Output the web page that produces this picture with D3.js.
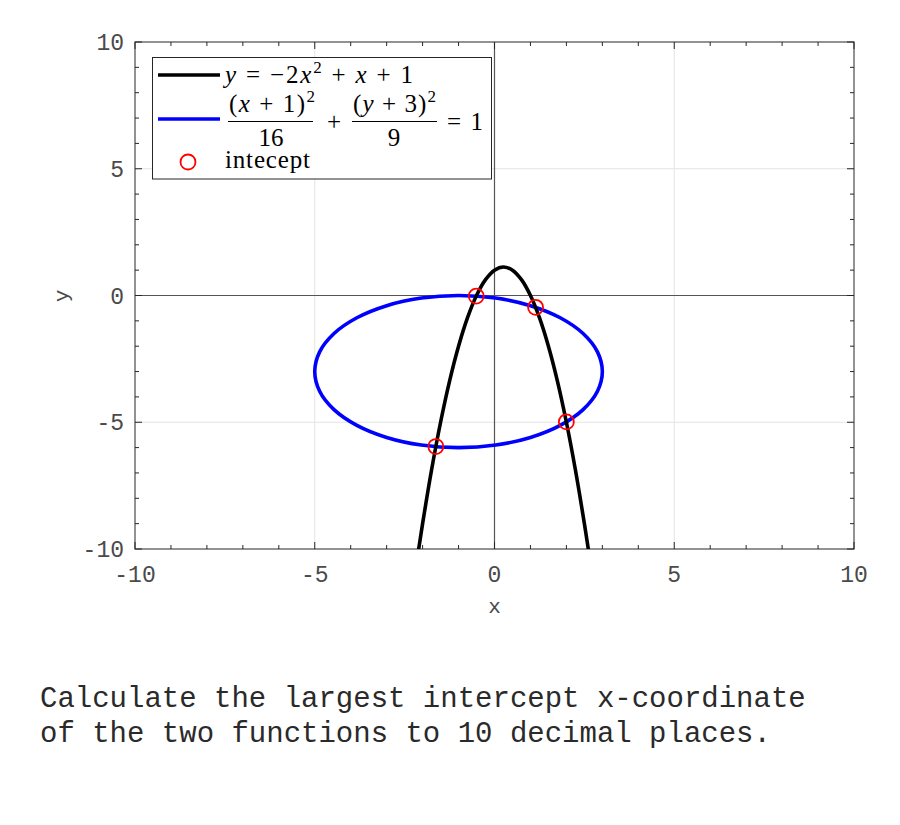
<!DOCTYPE html>
<html>
<head>
<meta charset="utf-8">
<script src="https://cdn.jsdelivr.net/npm/d3@7"></script>
<style>
  body { margin: 0; background: #fff; }
  svg { display: block; }
</style>
</head>
<body>
<svg id="chart" width="900" height="825"></svg>
<script>
// ---- data ----
const xTicks = [-10, -5, 0, 5, 10];
const yTicks = [-10, -5, 0, 5, 10];
const minorTicks = d3.range(-10, 11, 1);

// parabola y = -2x^2 + x + 1
const parabolaX = [-2.11, -2.0, -1.75, -1.5, -1.25, -1.0, -0.75, -0.5, -0.25, 0, 0.25, 0.5, 0.75, 1.0, 1.25, 1.5, 1.75, 2.0, 2.25, 2.5, 2.61];
const parabolaY = [-10.01, -9, -6.875, -5, -3.375, -2, -0.875, 0, 0.625, 1, 1.125, 1, 0.625, 0, -0.875, -2, -3.375, -5, -6.875, -9, -10.01];

// ellipse (x+1)^2/16 + (y+3)^2/9 = 1
const ellipseX = [3, 2.864, 2.464, 1.828, 1.0, 0.035, -1, -2.035, -3, -3.828, -4.464, -4.864, -5, -4.864, -4.464, -3.828, -3, -2.035, -1, 0.035, 1.0, 1.828, 2.464, 2.864];
const ellipseY = [-3, -2.224, -1.5, -0.879, -0.402, -0.102, 0, -0.102, -0.402, -0.879, -1.5, -2.224, -3, -3.776, -4.5, -5.121, -5.598, -5.898, -6, -5.898, -5.598, -5.121, -4.5, -3.776];

// intercepts
const interceptX = [-0.508, 1.142, 1.998, -1.632];
const interceptY = [-0.023, -0.466, -4.986, -5.958];

const questionLines = [
  "Calculate the largest intercept x-coordinate",
  "of the two functions to 10 decimal places."
];

// ---- layout ----
const svg = d3.select("#chart");
const L = 135, R = 854, T = 42, B = 549;
const x = d3.scaleLinear().domain([-10, 10]).range([L, R]);
const y = d3.scaleLinear().domain([-10, 10]).range([B, T]);
const mono = "'Liberation Mono', 'DejaVu Sans Mono', monospace";
const serif = "'Liberation Serif', 'DejaVu Serif', serif";

svg.append("defs").append("clipPath").attr("id", "clip")
  .append("rect").attr("x", L).attr("y", T).attr("width", R - L).attr("height", B - T);

// grid
const grid = svg.append("g");
[-5, 0, 5].forEach(v => {
  grid.append("line").attr("x1", x(v)).attr("x2", x(v)).attr("y1", T).attr("y2", B)
    .attr("stroke", "#e3e3e3").attr("stroke-width", 1);
  grid.append("line").attr("x1", L).attr("x2", R).attr("y1", y(v)).attr("y2", y(v))
    .attr("stroke", "#e3e3e3").attr("stroke-width", 1);
});

// zero axes
svg.append("line").attr("x1", x(0)).attr("x2", x(0)).attr("y1", T).attr("y2", B)
  .attr("stroke", "#555").attr("stroke-width", 1.2);
svg.append("line").attr("x1", L).attr("x2", R).attr("y1", y(0)).attr("y2", y(0))
  .attr("stroke", "#555").attr("stroke-width", 1.2);

// axes with inward ticks
function tickLen(v) { return v % 5 === 0 ? 7 : 4; }
const axG = svg.append("g").attr("stroke", "#262626").attr("stroke-width", 1);
minorTicks.forEach(v => {
  const t = tickLen(v);
  axG.append("line").attr("x1", x(v)).attr("x2", x(v)).attr("y1", B).attr("y2", B - t);
  axG.append("line").attr("x1", x(v)).attr("x2", x(v)).attr("y1", T).attr("y2", T + t);
  axG.append("line").attr("y1", y(v)).attr("y2", y(v)).attr("x1", L).attr("x2", L + t);
  axG.append("line").attr("y1", y(v)).attr("y2", y(v)).attr("x1", R).attr("x2", R - t);
});
svg.append("rect").attr("x", L).attr("y", T).attr("width", R - L).attr("height", B - T)
  .attr("fill", "none").attr("stroke", "#262626").attr("stroke-width", 1);

// tick labels
const fmt = v => (v < 0 ? "-" : "") + Math.abs(v);
svg.append("g").selectAll("text").data(xTicks).join("text")
  .attr("x", d => x(d)).attr("y", B + 33)
  .attr("text-anchor", "middle")
  .attr("font-family", mono).attr("font-size", 23).attr("fill", "#4a4a4a")
  .text(fmt);
svg.append("g").selectAll("text").data(yTicks).join("text")
  .attr("x", L - 11).attr("y", d => y(d) + 8)
  .attr("text-anchor", "end")
  .attr("font-family", mono).attr("font-size", 23).attr("fill", "#4a4a4a")
  .text(fmt);

// axis labels
svg.append("text").attr("x", x(0)).attr("y", 613).attr("text-anchor", "middle")
  .attr("font-family", mono).attr("font-size", 21).attr("fill", "#4a4a4a").text("x");
svg.append("text").attr("transform", "translate(68,296) rotate(-90)").attr("text-anchor", "middle")
  .attr("font-family", mono).attr("font-size", 21).attr("fill", "#4a4a4a").text("y");

// curves
const plot = svg.append("g").attr("clip-path", "url(#clip)");
const parabola = parabolaX.map((v, i) => [v, parabolaY[i]]);
const ellipse = ellipseX.map((v, i) => [v, ellipseY[i]]);

plot.append("path").datum(ellipse)
  .attr("d", d3.line().x(d => x(d[0])).y(d => y(d[1])).curve(d3.curveCatmullRomClosed.alpha(0.5)))
  .attr("fill", "none").attr("stroke", "#0000ff").attr("stroke-width", 3.6);

plot.append("path").datum(parabola)
  .attr("d", d3.line().x(d => x(d[0])).y(d => y(d[1])).curve(d3.curveCatmullRom.alpha(0.5)))
  .attr("fill", "none").attr("stroke", "#000").attr("stroke-width", 3.6);

plot.append("g").selectAll("circle").data(interceptX).join("circle")
  .attr("cx", d => x(d)).attr("cy", (d, i) => y(interceptY[i])).attr("r", 7.5)
  .attr("fill", "none").attr("stroke", "#ff0000").attr("stroke-width", 1.8);

// legend
const lg = svg.append("g");
lg.append("rect").attr("x", 152.5).attr("y", 57.5).attr("width", 339).attr("height", 121.5)
  .attr("fill", "#fff").attr("stroke", "#262626").attr("stroke-width", 1);
lg.append("line").attr("x1", 158).attr("x2", 220).attr("y1", 75).attr("y2", 75)
  .attr("stroke", "#000").attr("stroke-width", 3.6);
lg.append("line").attr("x1", 158).attr("x2", 220).attr("y1", 119).attr("y2", 119)
  .attr("stroke", "#0000ff").attr("stroke-width", 3.6);
lg.append("circle").attr("cx", 188).attr("cy", 162).attr("r", 7.5)
  .attr("fill", "none").attr("stroke", "#ff0000").attr("stroke-width", 1.8);

const fs = 25;
function mathText(xp, yp, parts, anchor, len) {
  const t = lg.append("text").attr("x", xp).attr("y", yp)
    .attr("font-family", serif).attr("font-size", fs).attr("fill", "#000")
    .attr("text-anchor", anchor || "start")
    .attr("xml:space", "preserve");
  if (len) t.attr("textLength", len).attr("lengthAdjust", "spacing");
  parts.forEach(p => {
    const s = t.append("tspan").text(p[0]);
    if (p[1] === "i") s.attr("font-style", "italic");
    if (p[1] === "sup") s.attr("font-size", 17).attr("dy", -10);
    if (p[1] === "down") s.attr("dy", 10);
  });
  return t;
}
// line 1
mathText(225, 83, [["y", "i"], [" = −2", ""], ["x", "i"], ["2", "sup"], [" + ", "down"], ["x", "i"], [" + 1", ""]], "start", 188);
// fraction 1
mathText(229, 112, [["(", ""], ["x", "i"], [" + 1)", ""], ["2", "sup"]], "start", 86);
lg.append("line").attr("x1", 228).attr("x2", 313).attr("y1", 121.5).attr("y2", 121.5).attr("stroke", "#000").attr("stroke-width", 1);
mathText(271, 146, [["16", ""]], "middle");
mathText(334, 130, [["+", ""]], "middle");
// fraction 2
mathText(353, 112, [["(", ""], ["y", "i"], [" + 3)", ""], ["2", "sup"]], "start", 83);
lg.append("line").attr("x1", 352).attr("x2", 437).attr("y1", 121.5).attr("y2", 121.5).attr("stroke", "#000").attr("stroke-width", 1);
mathText(394, 146, [["9", ""]], "middle");
mathText(447, 130, [["= 1", ""]], "start", 36);
// intercept
mathText(225, 168, [["intecept", ""]], "start", 85);

// question text
svg.append("g").selectAll("text").data(questionLines).join("text")
  .attr("x", 40).attr("y", (d, i) => 707 + i * 35)
  .attr("font-family", mono).attr("font-size", 29).attr("fill", "#2a2a2a")
  .attr("xml:space", "preserve")
  .text(d => d);
</script>
</body>
</html>
